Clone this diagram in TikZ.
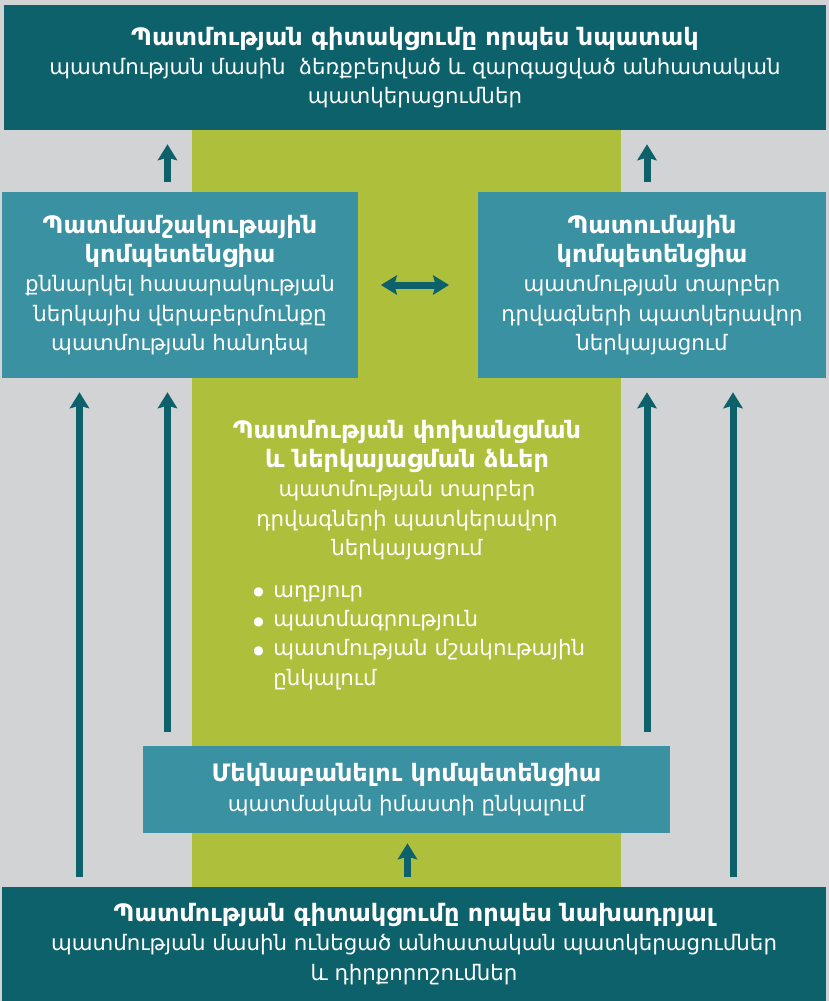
\documentclass[tikz,border=0pt]{standalone}
\usepackage{fontspec}
\setmainfont{DejaVu Sans}
\usetikzlibrary{arrows.meta}
\definecolor{bggray}{HTML}{D2D3D5}
\definecolor{leaf}{HTML}{AEBF3C}
\definecolor{deepteal}{HTML}{0C616B}
\definecolor{midteal}{HTML}{3A91A2}
\newcommand{\headline}[1]{{\fontsize{18}{22}\selectfont\bfseries #1}}
\newcommand{\dotitem}{\makebox[15pt][l]{\raisebox{1pt}{\fontsize{9}{9}\selectfont ●}}}

\begin{document}
\begin{tikzpicture}[x=0.75pt, y=-0.75pt,
    box/.style={rectangle, inner sep=0pt, align=center, text=white,
      font=\fontsize{16}{22}\selectfont},
    bigtip/.tip={Stealth[length=12pt, width=14.5pt, inset=2pt]},
    uparrow/.style={draw=deepteal, line width=5.25pt, -{bigtip}}]
  % background and green column
  \fill[bggray] (0,0) rectangle (829,1001);
  \fill[leaf] (192,130) rectangle (621,887);

  % boxes
  \node[box, fill=deepteal, minimum width=616.5pt, minimum height=93.75pt] at (415,67.5) (goal)
    {\headline{Պատմության գիտակցումը որպես նպատակ}\\
     պատմության մասին\ \ ձեռքբերված և զարգացված անհատական\\
     պատկերացումներ};
  \node[box, fill=midteal, minimum width=267pt, minimum height=139.5pt] at (180,285) (culture)
    {\headline{Պատմամշակութային}\\
     \headline{կոմպետենցիա}\\
     քննարկել հասարակության\\
     ներկայիս վերաբերմունքը\\
     պատմության հանդեպ};
  \node[box, fill=midteal, minimum width=261pt, minimum height=139.5pt] at (652,285) (narrate)
    {\headline{Պատումային}\\
     \headline{կոմպետենցիա}\\
     պատմության տարբեր\\
     դրվագների պատկերավոր\\
     ներկայացում};
  \node[box] at (407,490) (forms)
    {\headline{Պատմության փոխանցման}\\
     \headline{և ներկայացման ձևեր}\\
     պատմության տարբեր\\
     դրվագների պատկերավոր\\
     ներկայացում};
  \node[box, align=left, anchor=north west] at (253,585) (items)
    {\dotitem աղբյուր\\
     \dotitem պատմագրություն\\
     \dotitem պատմության մշակութային\\
     \hspace*{15pt}ընկալում};
  \node[box, fill=midteal, minimum width=395.25pt, minimum height=65.25pt] at (406.5,789.5) (interp)
    {\headline{Մեկնաբանելու կոմպետենցիա}\\
     պատմական իմաստի ընկալում};
  \node[box, fill=deepteal, minimum width=618pt, minimum height=85.5pt] at (414,944) (base)
    {\headline{Պատմության գիտակցումը որպես նախադրյալ}\\
     պատմության մասին ունեցած անհատական պատկերացումներ\\
     և դիրքորոշումներ};

  % arrow columns
  \coordinate (c1) at (79.5,0);
  \coordinate (c2) at (167.5,0);
  \coordinate (c3) at (407.5,0);
  \coordinate (c4) at (647,0);
  \coordinate (c5) at (733,0);

  \draw[uparrow, shorten <=7.5pt, shorten >=10.5pt] (base.north -| c1) -- (culture.south -| c1);
  \draw[uparrow, shorten <=7.5pt, shorten >=10.5pt] (base.north -| c5) -- (narrate.south -| c5);
  \draw[uparrow, shorten <=10pt, shorten >=10.5pt] (interp.north -| c2) -- (culture.south -| c2);
  \draw[uparrow, shorten <=10pt, shorten >=10.5pt] (interp.north -| c4) -- (narrate.south -| c4);
  \draw[uparrow, shorten <=7.5pt, shorten >=7.5pt] (base.north -| c3) -- (interp.south -| c3);
  \draw[uparrow, shorten <=7.5pt, shorten >=10.5pt] (culture.north -| c2) -- (goal.south -| c2);
  \draw[uparrow, shorten <=7.5pt, shorten >=10.5pt] (narrate.north -| c4) -- (goal.south -| c4);
  \draw[draw=deepteal, line width=5.25pt, {bigtip}-{bigtip}, shorten <=17pt, shorten >=21.5pt] (culture.east) -- (narrate.west);
\end{tikzpicture}
\end{document}
